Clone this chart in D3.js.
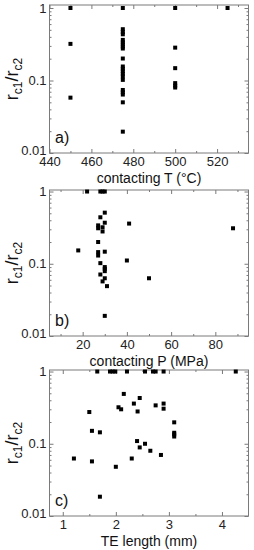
<!DOCTYPE html>
<html>
<head>
<meta charset="utf-8">
<script src="https://cdn.jsdelivr.net/npm/d3@7"></script>
<style>
  body { margin: 0; background: #fff; }
  svg text { font-family: "Liberation Sans", Arial, sans-serif; }
</style>
</head>
<body>
<div id="chart"></div>
<script>
(function () {
  'use strict';

  // a) contacting temperature
  var tempC = [450, 450, 450,
    475, 475, 475, 475, 475, 475, 475, 475, 475, 475, 475, 475, 475, 475, 475, 475, 475, 475, 475, 475, 475,
    500, 500, 500, 500, 500, 500,
    525];
  var tempRatio = [1, 0.32, 0.058,
    1, 0.51, 0.468, 0.434, 0.363, 0.337, 0.316, 0.294, 0.276, 0.201, 0.156, 0.145, 0.134, 0.124, 0.114, 0.102, 0.074, 0.069, 0.064, 0.05, 0.0197,
    1, 0.284, 0.148, 0.092, 0.085, 0.08,
    1];

  // b) contacting pressure
  var pressMPa = [22, 28, 29, 30,
    30, 28, 27, 27, 29, 29, 30, 27, 18, 27, 27, 30, 28, 30, 30, 30, 28, 30, 29, 31, 30,
    41, 40, 50, 88];
  var pressRatio = [1, 1, 1, 1,
    0.51, 0.44, 0.34, 0.31, 0.32, 0.28, 0.37, 0.2, 0.153, 0.145, 0.13, 0.147, 0.102, 0.09, 0.085, 0.079, 0.071, 0.063, 0.057, 0.049, 0.019,
    0.36, 0.111, 0.063, 0.31];

  // c) TE length
  var teLength = [1.65, 1.89, 1.94, 1.99, 2.21, 2.55, 2.70, 2.75, 2.90, 4.26,
    2.15, 2.45, 2.34, 2.05, 2.10, 1.50, 2.41, 2.75, 2.90, 2.90,
    3.10, 3.10, 3.10, 3.10, 1.55, 1.70, 2.40, 2.55, 2.45, 2.65,
    2.85, 1.21, 2.30, 1.55, 2.00, 1.70];
  var teRatio = [1, 1, 1, 1, 1, 1, 1, 1, 1, 1,
    0.49, 0.43, 0.36, 0.32, 0.30, 0.275, 0.28, 0.34, 0.36, 0.306,
    0.198, 0.142, 0.135, 0.126, 0.151, 0.144, 0.109, 0.10, 0.089, 0.08,
    0.07, 0.0625, 0.0625, 0.057, 0.048, 0.0185];

  var yTicks = [0.01, 0.1, 1];
  var yTickLabels = ["0.01", "0.1", "1"];
  var yMinor = [0.02, 0.03, 0.04, 0.05, 0.06, 0.07, 0.08, 0.09, 0.2, 0.3, 0.4, 0.5, 0.6, 0.7, 0.8, 0.9];

  var panels = [
    { x: tempC, y: tempRatio, xDomain: [440, 535], xTicks: [440, 460, 480, 500, 520],
      xMinor: [450, 470, 490, 510, 530], yMax: 1.1, title: "contacting T (\u00B0C)", tag: "a)", top: 5, bottom: 153 },
    { x: pressMPa, y: pressRatio, xDomain: [5, 95], xTicks: [20, 40, 60, 80],
      xMinor: [10, 30, 50, 70, 90], yMax: 1.05, title: "contacting P (MPa)", tag: "b)", top: 190, bottom: 336 },
    { x: teLength, y: teRatio, xDomain: [0.75, 4.5], xTicks: [1, 2, 3, 4],
      xMinor: [1.5, 2.5, 3.5], yMax: 1.05, title: "TE length (mm)", tag: "c)", top: 370, bottom: 516 }
  ];

  var width = 254, height = 550;
  var left = 49.5, right = 248.5;
  var frameColor = '#7a7a7a';

  var svg = d3.select('#chart').append('svg')
    .attr('width', width)
    .attr('height', height);

  panels.forEach(function (p) {
    var x = d3.scaleLinear().domain(p.xDomain).range([left, right]);
    var y = d3.scaleLog().domain([0.01, p.yMax]).range([p.bottom, p.top]);
    var g = svg.append('g');

    g.append('rect')
      .attr('x', left).attr('y', p.top)
      .attr('width', right - left).attr('height', p.bottom - p.top)
      .attr('fill', 'none').attr('stroke', frameColor);

    function style(sel) {
      sel.select('.domain').remove();
      sel.selectAll('line').attr('stroke', frameColor);
      sel.selectAll('text').attr('fill', '#222').style('font-size', '13px');
    }

    // x axes
    g.append('g').attr('transform', 'translate(0,' + p.bottom + ')')
      .call(d3.axisBottom(x).tickValues(p.xTicks).tickSize(-4).tickPadding(4).tickFormat(d3.format('d')))
      .call(style);
    g.append('g').attr('transform', 'translate(0,' + p.bottom + ')')
      .call(d3.axisBottom(x).tickValues(p.xMinor).tickSize(-2).tickFormat(''))
      .call(style);
    g.append('g').attr('transform', 'translate(0,' + p.top + ')')
      .call(d3.axisTop(x).tickValues(p.xTicks).tickSize(-4).tickFormat(''))
      .call(style);
    g.append('g').attr('transform', 'translate(0,' + p.top + ')')
      .call(d3.axisTop(x).tickValues(p.xMinor).tickSize(-2).tickFormat(''))
      .call(style);

    // y axes
    var yAx = g.append('g').attr('transform', 'translate(' + left + ',0)')
      .call(d3.axisLeft(y).tickValues(yTicks).tickSize(-4).tickPadding(3)
        .tickFormat(function (d, i) { return yTickLabels[i]; }))
      .call(style);
    // lift the bottom label a little so it clears the first x label
    yAx.selectAll('.tick text').filter(function (d) { return d === 0.01; }).attr('dy', '0.1em');
    g.append('g').attr('transform', 'translate(' + left + ',0)')
      .call(d3.axisLeft(y).tickValues(yMinor).tickSize(-2).tickFormat(''))
      .call(style);
    g.append('g').attr('transform', 'translate(' + right + ',0)')
      .call(d3.axisRight(y).tickValues(yTicks).tickSize(-4).tickFormat(''))
      .call(style);
    g.append('g').attr('transform', 'translate(' + right + ',0)')
      .call(d3.axisRight(y).tickValues(yMinor).tickSize(-2).tickFormat(''))
      .call(style);

    // points
    g.selectAll('rect.pt')
      .data(p.x.map(function (d, i) { return [d, p.y[i]]; }))
      .enter().append('rect')
      .attr('class', 'pt')
      .attr('x', function (d) { return x(d[0]) - 2; })
      .attr('y', function (d) { return y(d[1]) - 2; })
      .attr('width', 4).attr('height', 4)
      .attr('fill', '#000');

    // x title
    g.append('text')
      .attr('x', (left + right) / 2)
      .attr('y', p.bottom + 30)
      .attr('text-anchor', 'middle')
      .style('font-size', '14px')
      .attr('fill', '#111')
      .text(p.title);

    // y title
    var yt = g.append('text')
      .attr('transform', 'translate(18,' + ((p.top + p.bottom) / 2) + ') rotate(-90)')
      .attr('text-anchor', 'middle')
      .style('font-size', '18px')
      .attr('fill', '#111');
    yt.append('tspan').text('r');
    yt.append('tspan').attr('dy', 4).style('font-size', '12px').text('c1');
    yt.append('tspan').attr('dy', -4).text('/r');
    yt.append('tspan').attr('dy', 4).style('font-size', '12px').text('c2');

    // panel tag
    g.append('text')
      .attr('x', 55)
      .attr('y', p.bottom - 10)
      .style('font-size', '16px')
      .attr('fill', '#111')
      .text(p.tag);
  });
}());
</script>
</body>
</html>
